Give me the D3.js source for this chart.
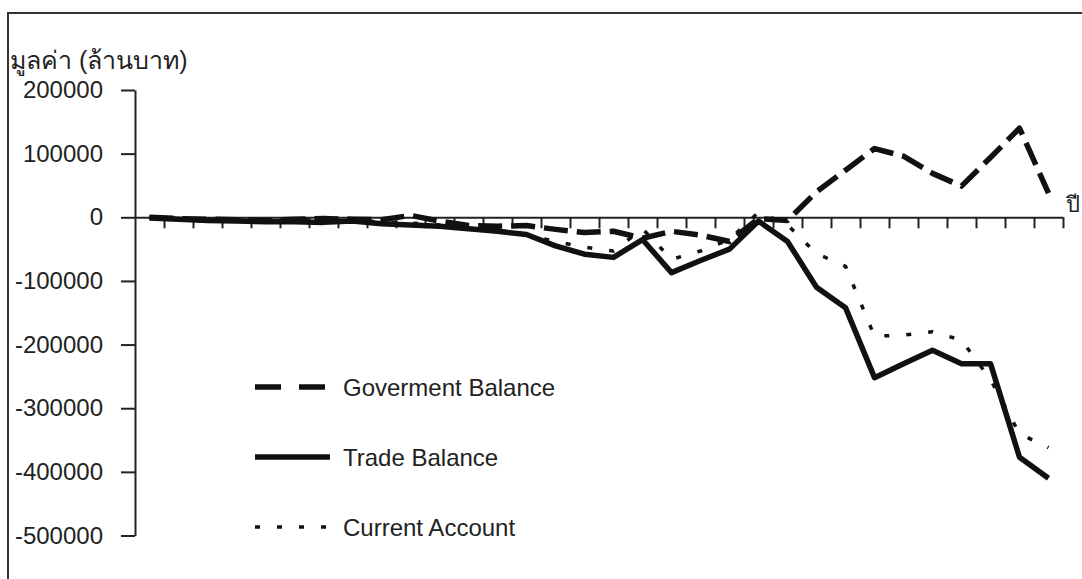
<!DOCTYPE html>
<html>
<head>
<meta charset="utf-8">
<script src="https://cdn.jsdelivr.net/npm/d3@7.9.0/dist/d3.min.js"></script>
<style>
  body { margin: 0; background: #fff; }
  svg { display: block; font-family: "Liberation Sans", Arial, "DejaVu Sans", sans-serif; }
</style>
</head>
<body>
<svg width="1082" height="579"></svg>
<script>
// 32 yearly periods (the x axis carries no labels)
const periods = [1, 2, 3, 4, 5, 6, 7, 8, 9, 10, 11, 12, 13, 14, 15, 16,
  17, 18, 19, 20, 21, 22, 23, 24, 25, 26, 27, 28, 29, 30, 31, 32];

const govBalance = [0, -2000, -3000, -4000, -5000, -3000, -2000, -3000, -4000, 3000, -6000,
  -13000, -14000, -13000, -19000, -24000, -22000, -33000, -22000, -28000, -38000, -2000,
  -5000, 40000, 74000, 108000, 96000, 69000, 49000, 94000, 140000, 38000];

const tradeBalance = [-1000, -3000, -5000, -6000, -7000, -7000, -8000, -6000, -10000, -12000, -14000,
  -18000, -22000, -27000, -45000, -58000, -63000, -35000, -87000, -68000, -50000, -6000,
  -38000, -110000, -142000, -252000, -230000, -209000, -230000, -230000, -377000, -410000];

const currentAccount = [0, -2000, -4000, -5000, -6000, -4000, -3000, -5000, -7000, -9000, -12000,
  -16000, -20000, -28000, -38000, -47000, -53000, -18000, -66000, -53000, -35000, 8000,
  -12000, -57000, -77000, -187000, -185000, -180000, -193000, -255000, -340000, -362000];

const yTicks = [200000, 100000, 0, -100000, -200000, -300000, -400000, -500000];

const seriesNames = ["Goverment Balance", "Trade Balance", "Current Account"];

const svg = d3.select("svg");

// outer frame
svg.append("rect")
  .attr("x", 8).attr("y", 13)
  .attr("width", 1090).attr("height", 600)
  .attr("fill", "none")
  .attr("stroke", "#333")
  .attr("stroke-width", 2);

const y = d3.scaleLinear().domain([-500000, 200000]).range([535.5, 90]);
const x = d3.scaleBand().domain(periods).range([135, 1063]).padding(0);
const xEdge = d3.scaleLinear().domain([0, periods.length]).range([135, 1063]);
const cx = (i) => x(periods[i]) + x.bandwidth() / 2;

// y axis
const yAxis = svg.append("g")
  .attr("transform", "translate(135,0)")
  .call(d3.axisLeft(y).tickValues(yTicks).tickSize(14).tickSizeOuter(0).tickPadding(18)
    .tickFormat((d) => String(d)));
yAxis.select(".domain").attr("stroke", "#222").attr("stroke-width", 2);
yAxis.selectAll(".tick line").attr("stroke", "#222").attr("stroke-width", 2);
yAxis.selectAll("text").attr("font-size", 24).attr("fill", "#222")
  .attr("font-family", "'Liberation Sans', Arial, sans-serif");

// x axis along zero
const xAxis = svg.append("g")
  .attr("transform", `translate(0,${y(0)})`)
  .call(d3.axisBottom(xEdge).tickValues(d3.range(1, periods.length + 1))
    .tickSize(11).tickSizeOuter(0).tickFormat(""));
xAxis.select(".domain").attr("stroke", "#222").attr("stroke-width", 2);
xAxis.selectAll(".tick line").attr("stroke", "#222").attr("stroke-width", 2);

// axis titles
svg.append("text")
  .attr("x", 10).attr("y", 69)
  .attr("font-size", 25).attr("fill", "#222")
  .text("มูลค่า (ล้านบาท)");

svg.append("text")
  .attr("x", 1066).attr("y", 212)
  .attr("font-size", 22).attr("fill", "#222")
  .text("ปี");

const line = d3.line()
  .x((d, i) => cx(i))
  .y((d) => y(d));

const styles = [
  { data: govBalance, width: 5.5, dash: "24,9" },
  { data: tradeBalance, width: 5.5, dash: null },
  { data: currentAccount, width: 3.5, dash: "5,17" }
];

styles.forEach((s) => {
  svg.append("path")
    .datum(s.data)
    .attr("d", line)
    .attr("fill", "none")
    .attr("stroke", "#111")
    .attr("stroke-width", s.width)
    .attr("stroke-linejoin", "round")
    .attr("stroke-dasharray", s.dash);
});

// legend
const legendY = [387, 457, 527];
styles.forEach((s, i) => {
  svg.append("line")
    .attr("x1", 255).attr("x2", 330)
    .attr("y1", legendY[i]).attr("y2", legendY[i])
    .attr("stroke", "#111")
    .attr("stroke-width", s.width)
    .attr("stroke-dasharray", s.dash === null ? null : (i === 0 ? "26,18" : "5,17"));
  svg.append("text")
    .attr("x", 343).attr("y", legendY[i])
    .attr("dy", "0.36em")
    .attr("font-size", 24).attr("fill", "#222")
    .text(seriesNames[i]);
});
</script>
</body>
</html>
